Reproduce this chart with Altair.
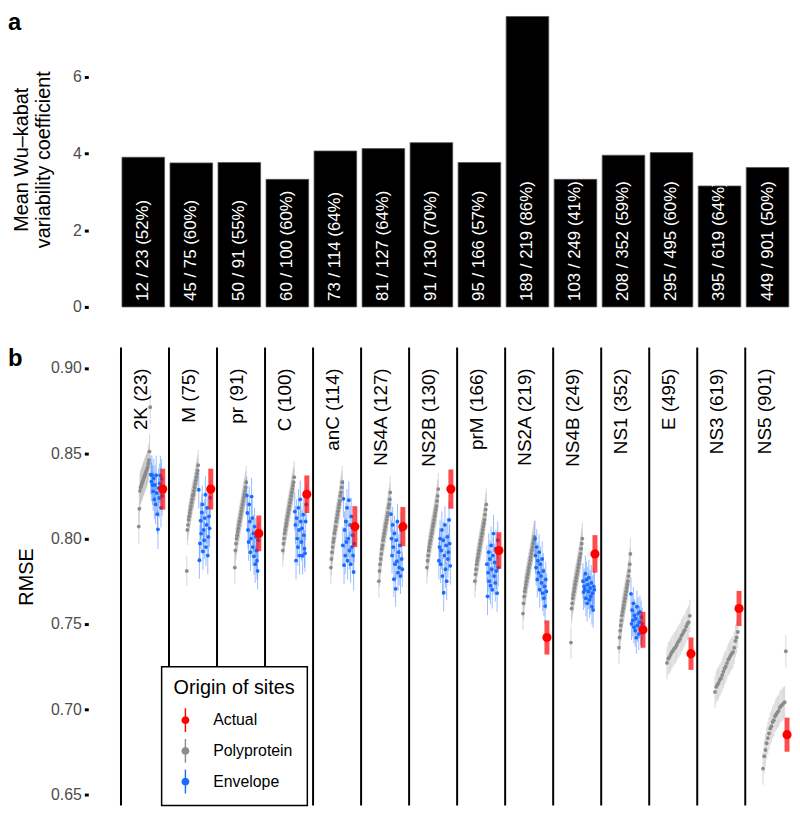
import altair as alt
import pandas as pd

# ---------------- data ----------------
segments = ["2K", "M", "pr", "C", "anC", "NS4A", "NS2B", "prM", "NS2A", "NS4B", "NS1", "E", "NS3", "NS5"]
segment_sites = [23, 75, 91, 100, 114, 127, 130, 166, 219, 249, 352, 495, 619, 901]
variable_sites = [12, 45, 50, 60, 73, 81, 91, 95, 189, 103, 208, 295, 395, 449]
variable_pct = [52, 60, 55, 60, 64, 64, 70, 57, 86, 41, 59, 60, 64, 50]
mean_wu_kabat = [3.905, 3.757, 3.768, 3.328, 4.068, 4.13, 4.285, 3.768, 7.577, 3.328, 3.957, 4.026, 3.155, 3.638]

actual_rmse = [0.829, 0.829, 0.803, 0.826, 0.807, 0.807, 0.829, 0.793, 0.742, 0.791, 0.7465, 0.7325, 0.759, 0.685]
actual_err = [0.012, 0.012, 0.0105, 0.011, 0.012, 0.0115, 0.0115, 0.0107, 0.010, 0.011, 0.0105, 0.0095, 0.0103, 0.010]
poly_err = [0.010, 0.0088, 0.0095, 0.0095, 0.0095, 0.0095, 0.0095, 0.0095, 0.0095, 0.0095, 0.0095, 0.0095, 0.0095, 0.0095]
env_err = [0.0115, 0.011, 0.011, 0.011, 0.011, 0.0105, 0.011, 0.011, 0.0105, 0.0105, 0.0095, 0.0, 0.0, 0.0]

poly_2K = [0.807, 0.8175, 0.828, 0.830, 0.831, 0.832, 0.833, 0.834, 0.835, 0.836, 0.837, 0.838, 0.839, 0.840, 0.841, 0.842, 0.844, 0.846, 0.851, 0.877]
poly_M = [0.781, 0.805, 0.808, 0.811, 0.813, 0.815, 0.817, 0.819, 0.821, 0.823, 0.825, 0.826, 0.828, 0.830, 0.832, 0.834, 0.836, 0.838, 0.840, 0.843]
poly_pr = [0.783, 0.793, 0.797, 0.800, 0.802, 0.804, 0.806, 0.808, 0.810, 0.812, 0.814, 0.816, 0.818, 0.820, 0.822, 0.824, 0.826, 0.828, 0.830, 0.833]
poly_C = [0.793, 0.797, 0.800, 0.803, 0.805, 0.807, 0.809, 0.811, 0.813, 0.815, 0.817, 0.819, 0.821, 0.823, 0.825, 0.827, 0.829, 0.831, 0.833, 0.836]
poly_anC = [0.783, 0.788, 0.792, 0.795, 0.798, 0.800, 0.803, 0.805, 0.807, 0.810, 0.812, 0.814, 0.816, 0.818, 0.820, 0.822, 0.825, 0.827, 0.830, 0.833]
poly_NS4A = [0.775, 0.781, 0.785, 0.788, 0.791, 0.794, 0.796, 0.799, 0.801, 0.803, 0.805, 0.807, 0.809, 0.811, 0.813, 0.815, 0.818, 0.820, 0.823, 0.827]
poly_NS2B = [0.783, 0.787, 0.790, 0.793, 0.795, 0.797, 0.799, 0.801, 0.803, 0.805, 0.807, 0.809, 0.811, 0.813, 0.815, 0.817, 0.819, 0.822, 0.825, 0.829]
poly_prM = [0.775, 0.779, 0.782, 0.785, 0.787, 0.789, 0.791, 0.793, 0.795, 0.797, 0.799, 0.801, 0.803, 0.805, 0.807, 0.809, 0.811, 0.814, 0.817, 0.820]
poly_NS2A = [0.756, 0.762, 0.766, 0.769, 0.771, 0.773, 0.775, 0.777, 0.779, 0.781, 0.783, 0.785, 0.787, 0.789, 0.791, 0.793, 0.795, 0.797, 0.799, 0.801]
poly_NS4B = [0.739, 0.759, 0.762, 0.765, 0.767, 0.769, 0.771, 0.773, 0.775, 0.777, 0.779, 0.781, 0.783, 0.785, 0.787, 0.789, 0.791, 0.794, 0.797, 0.800]
poly_NS1 = [0.736, 0.742, 0.746, 0.749, 0.752, 0.755, 0.757, 0.759, 0.761, 0.763, 0.765, 0.767, 0.769, 0.771, 0.773, 0.775, 0.778, 0.781, 0.785, 0.791]
poly_E = [0.7271, 0.7295, 0.7305, 0.7318, 0.7333, 0.7342, 0.7355, 0.7362, 0.7375, 0.7390, 0.7400, 0.7412, 0.7430, 0.7440, 0.7455, 0.7465, 0.7485, 0.7500, 0.7510, 0.7547]
poly_NS3 = [0.7101, 0.7130, 0.7143, 0.7153, 0.7170, 0.7181, 0.7200, 0.7220, 0.7238, 0.7250, 0.7270, 0.7290, 0.7300, 0.7315, 0.7325, 0.7335, 0.7360, 0.7400, 0.7420, 0.7452]
poly_NS5 = [0.6651, 0.6724, 0.6760, 0.6800, 0.6830, 0.6857, 0.6886, 0.6900, 0.6924, 0.6935, 0.6958, 0.6970, 0.6981, 0.6990, 0.7010, 0.7018, 0.7025, 0.7034, 0.7040, 0.7339]

env_2K = [0.8375, 0.8334, 0.8371, 0.8314, 0.8277, 0.8353, 0.8229, 0.8314, 0.8200, 0.8371, 0.8267, 0.8143, 0.8054, 0.8296, 0.8238, 0.8324, 0.8370, 0.8180, 0.8350, 0.8250]
env_M = [0.8286, 0.7873, 0.7971, 0.8105, 0.8029, 0.8153, 0.8200, 0.7924, 0.8050, 0.7990, 0.8120, 0.8257, 0.7950, 0.8080, 0.8180, 0.7900, 0.8010, 0.8130, 0.8060, 0.8240]
env_pr = [0.8253, 0.8150, 0.8050, 0.7980, 0.8200, 0.8100, 0.7920, 0.8000, 0.8246, 0.8120, 0.7950, 0.8030, 0.7896, 0.8070, 0.7850, 0.8010, 0.7930, 0.7870, 0.7810, 0.7990]
env_C = [0.8158, 0.8080, 0.7871, 0.8120, 0.8000, 0.7950, 0.8180, 0.8050, 0.7900, 0.8229, 0.8100, 0.7980, 0.8060, 0.7899, 0.8140, 0.8020, 0.7940, 0.7914, 0.8100, 0.8200]
env_anC = [0.7960, 0.8233, 0.7844, 0.8050, 0.7900, 0.8100, 0.7980, 0.8180, 0.7870, 0.8000, 0.8225, 0.7930, 0.8080, 0.7850, 0.8130, 0.7950, 0.8020, 0.7900, 0.7804, 0.7970]
env_NS4A = [0.8143, 0.8000, 0.7900, 0.8080, 0.7950, 0.7762, 0.8030, 0.7850, 0.7705, 0.7990, 0.7867, 0.8100, 0.7800, 0.7920, 0.7830, 0.7960, 0.7780, 0.8050, 0.7880, 0.7820]
env_NS2B = [0.7870, 0.7950, 0.8000, 0.7850, 0.7930, 0.8050, 0.7780, 0.7990, 0.7682, 0.7900, 0.8080, 0.7820, 0.7960, 0.7750, 0.8010, 0.7880, 0.7920, 0.8109, 0.7970, 0.7840]
env_prM = [0.7850, 0.7661, 0.7800, 0.7920, 0.7750, 0.7880, 0.7724, 0.7960, 0.7820, 0.7700, 0.7900, 0.8029, 0.7780, 0.7860, 0.7740, 0.7940, 0.7810, 0.7680, 0.7990, 0.7830]
env_NS2A = [0.8000, 0.7900, 0.7830, 0.7950, 0.7760, 0.7870, 0.7800, 0.7920, 0.7700, 0.7850, 0.7780, 0.7740, 0.7880, 0.7680, 0.7810, 0.7650, 0.7720, 0.7604, 0.7760, 0.7690]
env_NS4B = [0.7750, 0.7686, 0.7720, 0.7700, 0.7794, 0.7650, 0.7760, 0.7620, 0.7730, 0.7690, 0.7770, 0.7640, 0.7710, 0.7660, 0.7740, 0.7600, 0.7680, 0.7581, 0.7720, 0.7700]
env_NS1 = [0.7676, 0.7500, 0.7580, 0.7520, 0.7620, 0.7480, 0.7550, 0.7460, 0.7530, 0.7419, 0.7600, 0.7490, 0.7560, 0.7440, 0.7510, 0.7570, 0.7470, 0.7540, 0.7450, 0.7500]
env_E = []
env_NS3 = []
env_NS5 = []

origin_types = ["Actual", "Polyprotein", "Envelope"]
origin_colors = ["#ff0000", "#8c8c8c", "#1a6cff"]

# ---------------- tables ----------------
poly_sets = [poly_2K, poly_M, poly_pr, poly_C, poly_anC, poly_NS4A, poly_NS2B, poly_prM,
             poly_NS2A, poly_NS4B, poly_NS1, poly_E, poly_NS3, poly_NS5]
env_sets = [env_2K, env_M, env_pr, env_C, env_anC, env_NS4A, env_NS2B, env_prM,
            env_NS2A, env_NS4B, env_NS1, env_E, env_NS3, env_NS5]

rows = []
for i, seg in enumerate(segments):
    poly, env = poly_sets[i], env_sets[i]
    n = len(poly) + len(env) + 1
    k = 0
    for v in poly:
        rows.append({"segment": seg, "type": "Polyprotein", "x": i + 0.37 + 0.5 * k / (n - 1),
                     "v": v, "lo": v - poly_err[i], "hi": v + poly_err[i]})
        k += 1
    for v in env:
        rows.append({"segment": seg, "type": "Envelope", "x": i + 0.37 + 0.5 * k / (n - 1),
                     "v": v, "lo": v - env_err[i], "hi": v + env_err[i]})
        k += 1
    rows.append({"segment": seg, "type": "Actual", "x": i + 0.37 + 0.5 * k / (n - 1),
                 "v": actual_rmse[i], "lo": actual_rmse[i] - actual_err[i], "hi": actual_rmse[i] + actual_err[i]})
pts = pd.DataFrame(rows)
gray_df = pts[pts["type"] == "Polyprotein"]
blue_df = pts[pts["type"] == "Envelope"]
gb_df = pts[pts["type"] != "Actual"]
red_df = pts[pts["type"] == "Actual"]

lines_df = pd.DataFrame({"x": list(range(len(segments)))})
lab_df = pd.DataFrame({"x": [i + 0.41 for i in range(len(segments))],
                       "label": [f"{s} ({n})" for s, n in zip(segments, segment_sites)]})
bar_df = pd.DataFrame({"segment": segments, "mean": mean_wu_kabat,
                       "label": [f"{a} / {b} ({p}%)" for a, b, p in zip(variable_sites, segment_sites, variable_pct)]})

# ---------------- styles ----------------
W = 708
HA = 298
HB = 462
axis_style = dict(grid=False, domain=False, ticks=True, tickColor="black", tickWidth=3, tickSize=4,
                  labelFontSize=16, labelColor="#4d4d4d", labelPadding=3,
                  titleFontSize=20, titleFontWeight="normal", titleColor="black")

# ---------------- panel a ----------------
xa = alt.X("segment:N", sort=segments,
           scale=alt.Scale(paddingInner=0.1125, paddingOuter=0.3628, align=0.967), axis=None)
ya = alt.Y("mean:Q", scale=alt.Scale(domain=[0, 7.706], nice=False, zero=True),
           axis=alt.Axis(title=["Mean Wu–kabat", "variability coefficient"], values=[0, 2, 4, 6], format="d",
                         titlePadding=19, titleLineHeight=22, **axis_style))
bars = alt.Chart(bar_df).mark_bar(color="black", stroke="#555555", strokeWidth=0.8).encode(x=xa, y=ya)
bar_text = alt.Chart(bar_df).mark_text(angle=270, align="left", baseline="middle", fontSize=17,
                                       color="white").encode(x=xa, y=alt.value(HA - 6), text="label:N")
tag_a = alt.Chart(pd.DataFrame({"tag": ["a"]})).mark_text(
    align="left", baseline="top", fontSize=24, fontWeight="bold", color="black"
).encode(x=alt.value(-81), y=alt.value(0), text="tag:N")
panel_a = alt.layer(bars, bar_text, tag_a).properties(width=W, height=HA)

# ---------------- panel b ----------------
xq = alt.Scale(domain=[-0.681, 13.932], nice=False, zero=False)
xb = alt.X("x:Q", scale=xq, axis=None)
yb_scale = alt.Scale(domain=[0.6435, 0.912], nice=False, zero=False)
yb_axis = alt.Axis(title="RMSE", values=[0.65, 0.70, 0.75, 0.80, 0.85, 0.90], format=".2f",
                   titlePadding=14, **axis_style)
cscale = alt.Scale(domain=origin_types, range=origin_colors)

legend_symbol = ("M-0.06,-1L0.06,-1L0.06,1L-0.06,1Z"
                 "M-0.33,0A0.33,0.33,0,1,1,0.33,0A0.33,0.33,0,1,1,-0.33,0Z")
legend_b = alt.Legend(title="Origin of sites", orient="none", legendX=74, legendY=322,
                      fillColor="white", strokeColor="black", padding=12,
                      titleFontSize=20, titleFontWeight="normal", titleColor="black", titlePadding=10,
                      labelFontSize=16, labelColor="black", labelOffset=16,
                      symbolType=legend_symbol, symbolSize=576, symbolStrokeWidth=0,
                      symbolOpacity=1, rowPadding=7)
color_b = alt.Color("type:N", scale=cscale, legend=legend_b)

bounds = alt.Chart(lines_df).mark_rule(color="black", strokeWidth=2).encode(
    x=xb, y=alt.value(0), y2=alt.value(HB))
gray_rules = alt.Chart(gray_df).mark_rule(strokeWidth=1, opacity=0.35).encode(
    x=xb, y=alt.Y("lo:Q", scale=yb_scale, axis=yb_axis), y2="hi:Q", color=color_b)
blue_rules = alt.Chart(blue_df).mark_rule(strokeWidth=1, opacity=0.45).encode(
    x=xb, y=alt.Y("lo:Q", scale=yb_scale, axis=yb_axis), y2="hi:Q", color=color_b)
gb_points = alt.Chart(gb_df).mark_circle(size=15, opacity=1).encode(
    x=xb, y=alt.Y("v:Q", scale=yb_scale, axis=yb_axis), color=color_b)
red_rule = alt.Chart(red_df).mark_rule(strokeWidth=5, opacity=0.7).encode(
    x=xb, y=alt.Y("lo:Q", scale=yb_scale, axis=yb_axis), y2="hi:Q", color=color_b)
red_points = alt.Chart(red_df).mark_circle(size=85, opacity=1).encode(
    x=xb, y=alt.Y("v:Q", scale=yb_scale, axis=yb_axis), color=color_b)
seg_labels = alt.Chart(lab_df).mark_text(angle=270, align="right", baseline="middle", fontSize=19,
                                         color="black").encode(x=xb, y=alt.value(21), text="label:N")
tag_b = alt.Chart(pd.DataFrame({"tag": ["b"]})).mark_text(
    align="left", baseline="top", fontSize=24, fontWeight="bold", color="black"
).encode(x=alt.value(-81), y=alt.value(0), text="tag:N")

panel_b = alt.layer(bounds, gb_points, gray_rules, blue_rules, red_rule, red_points,
                    seg_labels, tag_b).properties(width=W, height=HB)

chart = (
    alt.vconcat(panel_a, panel_b, spacing=32)
    .resolve_scale(x="independent", y="independent", color="independent")
    .resolve_legend(color="independent")
    .properties(padding=0)
    .configure(font="Liberation Sans")
    .configure_view(stroke=None)
    .configure_legend(strokeWidth=1.5)
)

chart.save("out.html", embed_options={"renderer": "svg", "actions": False})
